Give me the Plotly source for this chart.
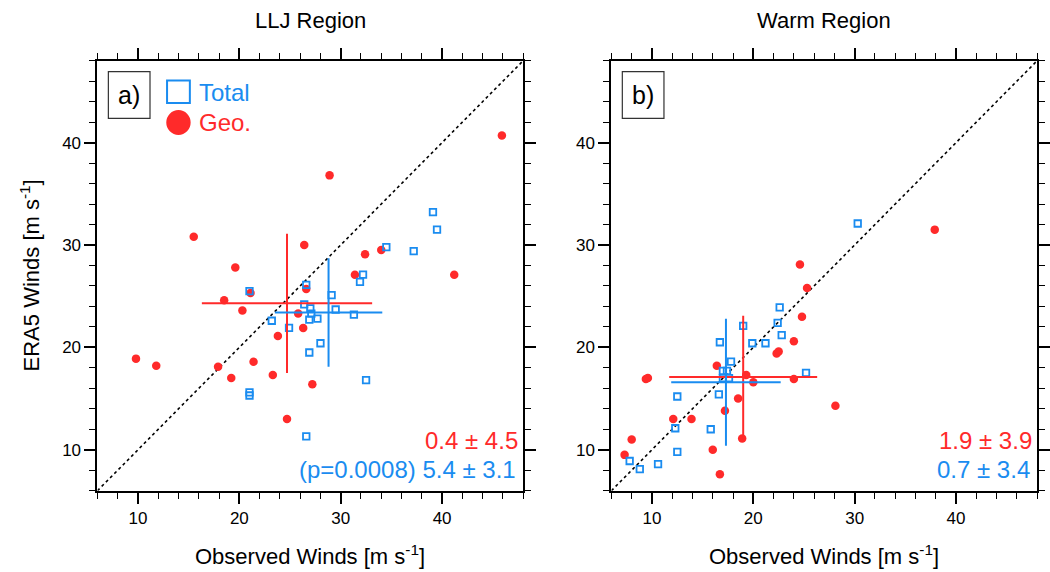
import plotly.graph_objects as go

# ---------------- data ----------------
panels = ["LLJ Region", "Warm Region"]
panel_tags = ["a)", "b)"]

# Panel a (LLJ) - Geo. (red dots)
llj_geo_x = [15.5, 26.4, 19.6, 21.1, 18.5, 20.3, 26.6, 25.8, 26.3, 23.8, 9.8, 11.8,
             17.9, 21.4, 19.2, 23.3, 27.2, 24.7, 28.9, 45.9, 32.4, 34.0, 31.4, 41.2]
llj_geo_y = [30.8, 30.0, 27.8, 25.3, 24.6, 23.6, 25.7, 23.3, 21.9, 21.1, 18.9, 18.2,
             18.1, 18.6, 17.0, 17.3, 16.4, 13.0, 36.8, 40.7, 29.1, 29.5, 27.1, 27.1]
# Panel a (LLJ) - Total (blue squares)
llj_tot_x = [21.0, 26.6, 29.1, 26.4, 27.0, 27.1, 26.9, 27.7, 29.5, 23.2, 24.9, 28.0,
             26.9, 21.0, 21.0, 26.6, 39.1, 39.5, 34.5, 37.2, 32.2, 31.9, 31.3, 32.5]
llj_tot_y = [25.5, 26.1, 25.1, 24.2, 23.8, 23.3, 22.7, 22.8, 23.7, 22.6, 21.9, 20.4,
             19.5, 15.6, 15.3, 11.3, 33.2, 31.5, 29.8, 29.4, 27.1, 26.4, 23.2, 16.8]

# Panel b (Warm) - Geo. (red dots)
warm_geo_x = [24.8, 24.0, 22.3, 22.5, 9.4, 9.6, 16.4, 19.3, 20.0, 24.0, 18.5, 17.2,
              12.1, 13.9, 18.9, 8.0, 7.3, 16.0, 16.7, 28.1, 37.9, 24.6, 25.3]
warm_geo_y = [23.0, 20.6, 19.4, 19.6, 16.9, 17.0, 18.2, 17.3, 16.6, 16.9, 15.0, 13.8,
              13.0, 13.0, 11.1, 11.0, 9.5, 10.0, 7.6, 14.3, 31.5, 28.1, 25.8]
# Panel b (Warm) - Total (blue squares)
warm_tot_x = [22.6, 22.4, 22.8, 19.0, 16.7, 19.9, 21.2, 17.8, 17.0, 17.4, 17.0, 17.6,
              25.2, 12.5, 16.6, 12.3, 15.8, 12.5, 10.6, 7.8, 8.8, 30.3]
warm_tot_y = [23.9, 22.4, 21.2, 22.1, 20.5, 20.4, 20.4, 18.6, 17.7, 17.7, 17.0, 17.0,
              17.5, 15.2, 15.4, 12.1, 12.0, 9.8, 8.6, 8.9, 8.1, 32.1]

# mean +/- std crosses: [center_x, center_y, half_x, half_y]
llj_geo_cross = [24.7, 24.3, 8.4, 6.8]
llj_tot_cross = [28.8, 23.4, 5.3, 5.3]
warm_geo_cross = [19.0, 17.1, 7.3, 6.0]
warm_tot_cross = [17.3, 16.6, 5.4, 6.2]

# bias +/- std text
llj_stats = ["0.4 ± 4.5", "(p=0.0008) 5.4 ± 3.1"]
warm_stats = ["1.9 ± 3.9", "0.7 ± 3.4"]

one_to_one = [6, 48]
axis_range = [6, 48]
tick_vals = [10, 20, 30, 40]

RED = "#ff2a2a"
BLUE = "#1a8cf0"
FONT = "Liberation Sans, Arial, Helvetica, sans-serif"

# ---------------- layout geometry (pixels) ----------------
FW, FH = 1050, 572
T, B = 60.7, 490.7
LEFTS = [98.3, 616.7]
PW = 429.4


def px(x):
    return x / FW


def py(y):
    return 1 - y / FH


fig = go.Figure()

data = [
    (llj_geo_x, llj_geo_y, llj_tot_x, llj_tot_y, llj_geo_cross, llj_tot_cross, llj_stats),
    (warm_geo_x, warm_geo_y, warm_tot_x, warm_tot_y, warm_geo_cross, warm_tot_cross, warm_stats),
]

for i, (gx, gy, tx, ty, gc, tc, stats) in enumerate(data):
    xa = "x" if i == 0 else "x2"
    ya = "y" if i == 0 else "y2"
    # 1:1 line
    fig.add_trace(go.Scatter(x=one_to_one, y=one_to_one, mode="lines",
                             line=dict(color="black", width=1.6, dash="dot"),
                             xaxis=xa, yaxis=ya, showlegend=False, hoverinfo="skip"))
    # Geo dots
    fig.add_trace(go.Scatter(x=gx, y=gy, mode="markers", name="Geo.",
                             marker=dict(symbol="circle", size=8.5, color=RED, line=dict(width=0)),
                             xaxis=xa, yaxis=ya, showlegend=False))
    # Total squares
    fig.add_trace(go.Scatter(x=tx, y=ty, mode="markers", name="Total",
                             marker=dict(symbol="square-open", size=6.5, color=BLUE,
                                         line=dict(width=1.8, color=BLUE)),
                             xaxis=xa, yaxis=ya, showlegend=False))
    # crosses
    for c, col in ((gc, RED), (tc, BLUE)):
        fig.add_trace(go.Scatter(x=[c[0]], y=[c[1]], mode="markers",
                                 marker=dict(size=2, color=col, opacity=0),
                                 error_x=dict(type="data", array=[c[2]], color=col, thickness=2, width=0),
                                 error_y=dict(type="data", array=[c[3]], color=col, thickness=2, width=0),
                                 xaxis=xa, yaxis=ya, showlegend=False, hoverinfo="skip"))

axis_common = dict(range=axis_range, tickvals=tick_vals, ticks="outside", ticklen=11,
                   tickwidth=2, tickcolor="black", showline=True, linecolor="black",
                   linewidth=2, mirror="ticks", showgrid=False, zeroline=False,
                   tickfont=dict(family=FONT, size=17, color="black"),
                   minor=dict(dtick=2, ticks="outside", ticklen=6, tickwidth=1,
                              tickcolor="black", showgrid=False))

layout_axes = {}
for i, L in enumerate(LEFTS):
    sfx = "" if i == 0 else "2"
    layout_axes["xaxis" + sfx] = dict(axis_common, domain=[px(L), px(L + PW)],
                                      anchor="y" + sfx)
    layout_axes["yaxis" + sfx] = dict(axis_common, domain=[py(B), py(T)],
                                      anchor="x" + sfx)

fig.update_layout(width=FW, height=FH, margin=dict(l=0, r=0, t=0, b=0),
                  plot_bgcolor="white", paper_bgcolor="white",
                  font=dict(family=FONT, color="black"), showlegend=False,
                  **layout_axes)

annotations = []
shapes = []
for i, L in enumerate(LEFTS):
    cx = L + PW / 2
    # panel title
    annotations.append(dict(x=px(cx), y=py(21), xref="paper", yref="paper",
                            text=panels[i], showarrow=False, xanchor="center", yanchor="middle",
                            font=dict(size=22, family=FONT, color="black")))
    # x-axis title
    annotations.append(dict(x=px(cx), y=py(555), xref="paper", yref="paper",
                            text="Observed Winds [m s<sup>-1</sup>]", showarrow=False,
                            xanchor="center", yanchor="middle",
                            font=dict(size=22, family=FONT, color="black")))
    # panel tag box
    shapes.append(dict(type="rect", xref="paper", yref="paper",
                       x0=px(L + 11), x1=px(L + 53), y0=py(118.3), y1=py(71.7),
                       line=dict(color="#333333", width=1.2), fillcolor="white"))
    annotations.append(dict(x=px(L + 32), y=py(95), xref="paper", yref="paper",
                            text=panel_tags[i], showarrow=False, xanchor="center", yanchor="middle",
                            font=dict(size=25, family=FONT, color="black")))
    # stats text
    stats = data[i][6]
    R = L + PW - 3
    annotations.append(dict(x=px(R), y=py(440), xref="paper", yref="paper",
                            text=stats[0], showarrow=False, xanchor="right", yanchor="middle",
                            font=dict(size=24, family=FONT, color=RED)))
    annotations.append(dict(x=px(R - 2), y=py(469), xref="paper", yref="paper",
                            text=stats[1], showarrow=False, xanchor="right", yanchor="middle",
                            font=dict(size=24, family=FONT, color=BLUE)))

# y-axis title (left panel only)
annotations.append(dict(x=px(30), y=py((T + B) / 2), xref="paper", yref="paper",
                        text="ERA5 Winds [m s<sup>-1</sup>]", showarrow=False, textangle=-90,
                        xanchor="center", yanchor="middle",
                        font=dict(size=22, family=FONT, color="black")))

# legend (panel a)
shapes.append(dict(type="rect", xref="paper", yref="paper",
                   x0=px(168.5), x1=px(191.5), y0=py(103), y1=py(80.5),
                   line=dict(color=BLUE, width=2), fillcolor="rgba(0,0,0,0)"))
shapes.append(dict(type="circle", xref="paper", yref="paper",
                   x0=px(167.7), x1=px(192.3), y0=py(135), y1=py(110),
                   line=dict(color=RED, width=0), fillcolor=RED))
annotations.append(dict(x=px(199), y=py(92), xref="paper", yref="paper", text="Total",
                        showarrow=False, xanchor="left", yanchor="middle",
                        font=dict(size=24, family=FONT, color=BLUE)))
annotations.append(dict(x=px(199), y=py(123), xref="paper", yref="paper", text="Geo.",
                        showarrow=False, xanchor="left", yanchor="middle",
                        font=dict(size=24, family=FONT, color=RED)))

fig.update_layout(annotations=annotations, shapes=shapes)
fig.write_html("out.html")
